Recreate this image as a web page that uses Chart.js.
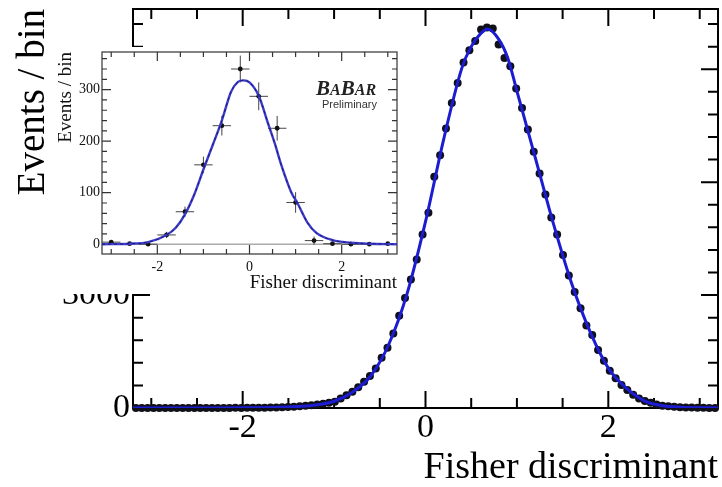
<!DOCTYPE html>
<html>
<head>
<meta charset="utf-8">
<script src="https://cdn.jsdelivr.net/npm/chart.js@4.4.0/dist/chart.umd.min.js"></script>
<style>
  html, body { margin: 0; padding: 0; background: #fff; }
  #wrap { position: relative; width: 722px; height: 487px; overflow: hidden; }
  #mainChart { position: absolute; left: 0; top: 0; }
  #insetBox { position: absolute; left: 55px; top: 47px; width: 350px; height: 247px; background: #fff; overflow: hidden; }
  #insetChart { position: absolute; left: 0; top: 0; }
  #babar { position: absolute; left: 316px; top: 78px; font-family: 'Liberation Serif', serif; font-weight: bold; font-style: italic; color: #222; line-height: 1; }
  #babar .big { font-size: 21px; }
  #babar .sm { font-size: 16px; }
  #prelim { position: absolute; left: 322px; top: 98px; font-family: 'Liberation Sans', sans-serif; font-size: 11px; color: #333; }
</style>
</head>
<body>
<div id="wrap">
  <canvas id="mainChart" width="722" height="487"></canvas>
  <div id="insetBox"><canvas id="insetChart" width="350" height="251"></canvas></div>
  <div id="babar"><span class="big">B</span><span class="sm">A</span><span class="big">B</span><span class="sm">AR</span></div>
  <div id="prelim">Preliminary</div>
</div>
<script>
// main histogram: 100 bins from -3.2 to 3.2
const mainBinLow = -3.2;
const mainBinWidth = 0.064;
const mainCounts = [
  1, 1, 0, 2, 0, 1, 1, 0, 2, 1, 1, 2, 1, 3, 2, 2, 3, 4, 3, 5,
  6, 7, 9, 12, 15, 19, 25, 33, 44, 57, 72, 90, 112, 138,
  165, 255, 340, 430, 550, 700, 850, 1050, 1335, 1600, 1980, 2450,
  2920, 3417, 3948, 4611, 5186, 6141, 6717, 7425, 8106, 8637, 9178, 9505, 9752, 10054, 10107, 10080,
  9656, 9300, 9080, 8488, 7973, 7399, 6805, 6231, 5674, 5063, 4611, 4062, 3523, 3080,
  2650, 2190, 1940, 1540, 1257, 990, 790, 610, 480, 350, 255, 185, 140, 93, 60,
  45, 32, 22, 15, 10, 7, 5, 3, 2
];
// fitted pdf on the main plot
const mainFitX = [-3.2, -2.4, -2.0, -1.6, -1.4, -1.2, -1.0, -0.8, -0.6, -0.4, -0.2, 0.0, 0.2, 0.4, 0.5, 0.6, 0.68,
                  0.8, 0.9, 1.0, 1.2, 1.4, 1.6, 1.8, 2.0, 2.2, 2.4, 2.6, 2.8, 3.0, 3.2];
const mainFitY = [0, 2, 4, 17, 40, 80, 180, 420, 850, 1700, 3050, 4950, 7150, 9050, 9600, 9940, 10070,
                  9800, 9300, 8420, 6660, 4890, 3300, 2030, 1060, 520, 185, 60, 20, 7, 2];
const mainXLabels = [-2, 0, 2];
const mainYLabels = [0, 3000, 6000, 9000];

// inset histogram (bins of 0.4)
const insetX = [-3.0, -2.6, -2.2, -1.8, -1.4, -1.0, -0.6, -0.2, 0.2, 0.6, 1.0, 1.4, 1.8, 2.2, 2.6, 3.0];
const insetCounts = [4, 1, 0, 18, 63, 154, 230, 340, 287, 225, 81, 7, 1, 0, 0, 1];
const insetErr = [2, 1, 1, 6, 10, 16, 19, 26, 27, 24, 20, 8, 2, 1, 1, 2];
const insetFitX = [-3.2, -2.6, -2.2, -1.8, -1.6, -1.4, -1.2, -1.0, -0.8, -0.6, -0.4, -0.25, -0.13, 0.0,
                   0.2, 0.4, 0.55, 0.7, 0.9, 1.05, 1.25, 1.45, 1.8, 2.2, 2.6, 3.2];
const insetFitY = [0, 1, 4, 18, 32, 58, 96, 145, 192, 240, 296, 315, 318, 314,
                   288, 235, 195, 151, 102, 78, 43, 22, 8, 3, 1, 0];
const insetXLabels = [-2, 0, 2];
const insetYLabels = [0, 100, 200, 300];

const serif = 'Liberation Serif';

// ROOT-like frame with ticks pointing inwards on all four sides
const rootFrame = {
  id: 'rootFrame',
  beforeDatasetsDraw(chart, args, o) {
    const {ctx, chartArea: a} = chart;
    const sx = chart.scales.x, sy = chart.scales.y;
    ctx.save();
    if (o.zeroLine) {
      const pz = sy.getPixelForValue(0);
      ctx.strokeStyle = o.zeroLine;
      ctx.lineWidth = 1.5;
      ctx.beginPath();
      ctx.moveTo(a.left, pz);
      ctx.lineTo(a.right, pz);
      ctx.stroke();
    }
    ctx.strokeStyle = o.color;
    ctx.lineWidth = o.width;
    ctx.beginPath();
    const isMajor = (v, m) => Math.abs(v / m - Math.round(v / m)) < 1e-6;
    for (let k = Math.ceil(sx.min / o.xMinor - 1e-9); k * o.xMinor <= sx.max + 1e-9; k++) {
      const v = k * o.xMinor;
      const len = isMajor(v, o.xMajor) ? o.majorLen : o.minorLen;
      const px = sx.getPixelForValue(v);
      ctx.moveTo(px, a.bottom); ctx.lineTo(px, a.bottom - len);
      ctx.moveTo(px, a.top); ctx.lineTo(px, a.top + len);
    }
    for (let k = Math.ceil(sy.min / o.yMinor - 1e-9); k * o.yMinor <= sy.max + 1e-9; k++) {
      const v = k * o.yMinor;
      const len = isMajor(v, o.yMajor) ? o.majorLen : o.minorLen;
      const py = sy.getPixelForValue(v);
      ctx.moveTo(a.left, py); ctx.lineTo(a.left + len, py);
      ctx.moveTo(a.right, py); ctx.lineTo(a.right - len, py);
    }
    ctx.stroke();
    ctx.strokeRect(a.left, a.top, a.right - a.left, a.bottom - a.top);
    ctx.restore();
  }
};

// error crosses for the inset points
const errorBars = {
  id: 'errorBars',
  beforeDatasetsDraw(chart) {
    const {ctx} = chart;
    const sx = chart.scales.x, sy = chart.scales.y;
    ctx.save();
    ctx.strokeStyle = '#444';
    ctx.lineWidth = 1;
    ctx.beginPath();
    insetX.forEach((xv, i) => {
      const px = sx.getPixelForValue(xv);
      const py = sy.getPixelForValue(insetCounts[i]);
      ctx.moveTo(sx.getPixelForValue(xv - 0.2), py);
      ctx.lineTo(sx.getPixelForValue(xv + 0.2), py);
      ctx.moveTo(px, sy.getPixelForValue(insetCounts[i] - insetErr[i]));
      ctx.lineTo(px, sy.getPixelForValue(insetCounts[i] + insetErr[i]));
    });
    ctx.stroke();
    ctx.restore();
  }
};

function fixedTicks(values) {
  return s => { s.ticks = values.map(v => ({value: v})); };
}

// main plot
const mainPoints = mainCounts.map((c, i) => ({x: mainBinLow + mainBinWidth * (i + 0.5), y: c}));
const mainFit = mainFitX.map((x, i) => ({x: x, y: mainFitY[i]}));

new Chart(document.getElementById('mainChart'), {
  type: 'scatter',
  data: {
    datasets: [
      {
        type: 'line', data: mainFit, showLine: true, pointRadius: 0,
        borderColor: '#1c1cd2', borderWidth: 3, cubicInterpolationMode: 'monotone', order: 0
      },
      {
        type: 'scatter', data: mainPoints, pointRadius: 4, pointBackgroundColor: '#101018',
        pointBorderWidth: 0, clip: false, order: 1
      }
    ]
  },
  options: {
    responsive: false,
    animation: false,
    devicePixelRatio: 1,
    layout: { padding: { top: 9, right: 2, left: 0, bottom: 0 } },
    plugins: {
      legend: { display: false },
      tooltip: { enabled: false },
      rootFrame: { color: '#000', width: 2, xMinor: 0.5, xMajor: 2, yMinor: 600, yMajor: 3000, majorLen: 17, minorLen: 10 }
    },
    scales: {
      x: {
        type: 'linear', min: -3.2, max: 3.2,
        afterBuildTicks: fixedTicks(mainXLabels),
        afterFit: s => { s.height = 79; s.paddingLeft = 0; s.paddingRight = 0; },
        grid: { display: false, drawTicks: false },
        border: { display: false },
        ticks: { color: '#000', font: { family: serif, size: 34 }, padding: 0, maxRotation: 0, autoSkip: false, callback: v => String(v) },
        title: { display: true, text: 'Fisher discriminant', align: 'end', color: '#000',
                 font: { family: serif, size: 38, lineHeight: 1 }, padding: { top: 0, bottom: 0 } }
      },
      y: {
        type: 'linear', min: 0, max: 10600,
        afterBuildTicks: fixedTicks(mainYLabels),
        afterFit: s => { s.width = 133; s.paddingTop = 0; s.paddingBottom = 0; },
        grid: { display: false, drawTicks: false },
        border: { display: false },
        ticks: { color: '#000', font: { family: serif, size: 34 }, padding: 3, callback: v => String(v) },
        title: { display: true, text: 'Events / bin', align: 'end', color: '#000',
                 font: { family: serif, size: 39, lineHeight: 1 }, padding: { top: 14, bottom: 0 } }
      }
    }
  },
  plugins: [rootFrame]
});

// inset plot
const insetPoints = insetX.map((x, i) => ({x: x, y: insetCounts[i]}));
const insetFit = insetFitX.map((x, i) => ({x: x, y: insetFitY[i]}));

new Chart(document.getElementById('insetChart'), {
  type: 'scatter',
  data: {
    datasets: [
      {
        type: 'line', data: insetFit, showLine: true, pointRadius: 0, borderColor: '#1a1a66',
        borderWidth: 1, borderDash: [3, 3], cubicInterpolationMode: 'monotone', order: 0
      },
      {
        type: 'line', data: insetFit, showLine: true, pointRadius: 0, borderColor: '#3c3cd0',
        borderWidth: 2.4, cubicInterpolationMode: 'monotone', order: 1
      },
      {
        type: 'scatter', data: insetPoints, pointRadius: 2.4, pointBackgroundColor: '#111',
        pointBorderWidth: 0, order: 2
      }
    ]
  },
  options: {
    responsive: false,
    animation: false,
    devicePixelRatio: 1,
    layout: { padding: { top: 5, right: 8, left: 0, bottom: 0 } },
    plugins: {
      legend: { display: false },
      tooltip: { enabled: false },
      rootFrame: { color: '#333', width: 1.2, xMinor: 0.5, xMajor: 2, yMinor: 20, yMajor: 100, majorLen: 9, minorLen: 5, zeroLine: '#aaa' }
    },
    scales: {
      x: {
        type: 'linear', min: -3.2, max: 3.2,
        afterBuildTicks: fixedTicks(insetXLabels),
        afterFit: s => { s.height = 44; s.paddingLeft = 0; s.paddingRight = 0; },
        grid: { display: false, drawTicks: false },
        border: { display: false },
        ticks: { color: '#111', font: { family: serif, size: 14 }, padding: 5, maxRotation: 0, autoSkip: false, callback: v => String(v) },
        title: { display: true, text: 'Fisher discriminant', align: 'end', color: '#111',
                 font: { family: serif, size: 19, lineHeight: 1 }, padding: { top: 0, bottom: 5 } }
      },
      y: {
        type: 'linear', min: -19, max: 373,
        afterBuildTicks: fixedTicks(insetYLabels),
        afterFit: s => { s.width = 47; s.paddingTop = 0; s.paddingBottom = 0; },
        grid: { display: false, drawTicks: false },
        border: { display: false },
        ticks: { color: '#111', font: { family: serif, size: 14 }, padding: 2, callback: v => String(v) },
        title: { display: true, text: 'Events / bin', align: 'end', color: '#111',
                 font: { family: serif, size: 19, lineHeight: 1 }, padding: { top: 1.5, bottom: 0 } }
      }
    }
  },
  plugins: [rootFrame, errorBars]
});
</script>
</body>
</html>
